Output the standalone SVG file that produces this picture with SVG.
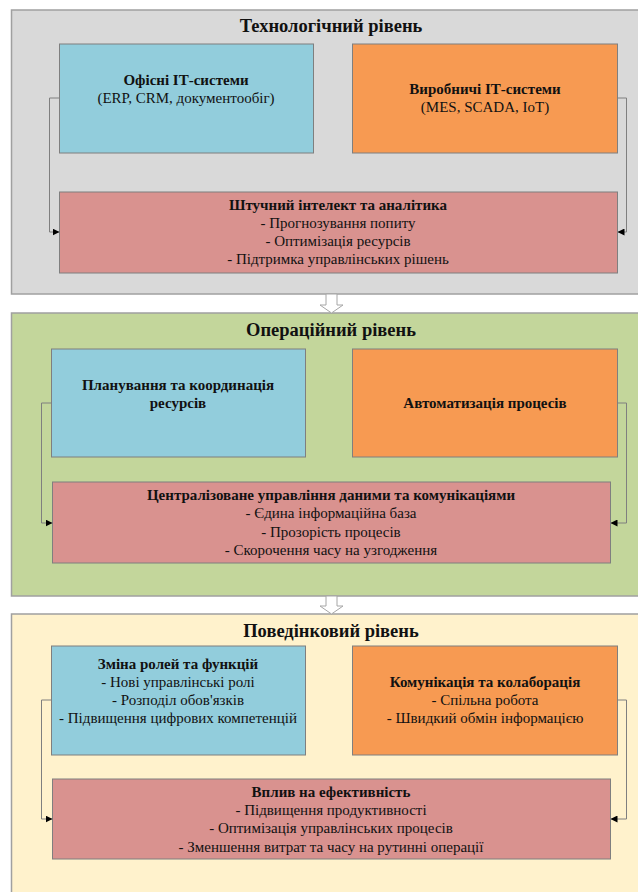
<svg xmlns="http://www.w3.org/2000/svg" width="638" height="892" viewBox="0 0 638 892">
<style>
text{font-family:"Liberation Serif","Times New Roman",serif;fill:#111;text-anchor:middle}
.pt{font-size:18.5px;font-weight:bold}
.bt{font-size:15px;font-weight:bold}
.tx{font-size:15px}
.panel{stroke:#a0a0a0;stroke-width:1.5}
.box{stroke:#7f7f7f;stroke-width:1}
.blue{fill:#92cddc}
.orange{fill:#f79a52}
.red{fill:#d9928f}
.conn{fill:none;stroke:#7f7f7f;stroke-width:1}
.big{fill:#fff;stroke:#a6a6a6;stroke-width:1}
</style>
<defs>
<marker id="ah" viewBox="0 0 10 10" refX="10" refY="5" markerWidth="7" markerHeight="7" orient="auto" markerUnits="userSpaceOnUse">
<path d="M0,0 L10,5 L0,10 z" fill="#000"/>
</marker>
</defs>
<rect width="638" height="892" fill="#fff"/>

<g id="panel-tech">
<rect class="panel" x="11.5" y="10" width="640" height="284" fill="#d9d9d9"/>
<text class="pt" x="331" y="32">Технологічний рівень</text>
</g>
<g id="panel-oper">
<rect class="panel" x="11.5" y="313" width="640" height="283" fill="#c3d69b"/>
<text class="pt" x="331" y="336">Операційний рівень</text>
</g>
<g id="panel-behav">
<rect class="panel" x="11.5" y="614" width="640" height="290" fill="#fff2cc"/>
<text class="pt" x="331" y="637">Поведінковий рівень</text>
</g>

<g id="office-it">
<rect class="box blue" x="59.5" y="44" width="254" height="109"/>
<text class="bt" x="186" y="85">Офісні ІТ-системи</text>
<text class="tx" x="186" y="103">(ERP, CRM, документообіг)</text>
</g>
<g id="prod-it">
<rect class="box orange" x="352.5" y="44" width="265" height="109"/>
<text class="bt" x="485" y="94">Виробничі ІТ-системи</text>
<text class="tx" x="485" y="112">(MES, SCADA, IoT)</text>
</g>
<g id="ai">
<rect class="box red" x="59.5" y="192" width="558" height="81"/>
<text class="bt" x="338" y="210">Штучний інтелект та аналітика</text>
<text class="tx" x="338" y="228">- Прогнозування попиту</text>
<text class="tx" x="338" y="246">- Оптимізація ресурсів</text>
<text class="tx" x="338" y="264">- Підтримка управлінських рішень</text>
</g>

<g id="planning">
<rect class="box blue" x="51.5" y="349" width="254" height="108"/>
<text class="bt" x="178" y="390">Планування та координація</text>
<text class="bt" x="178" y="408">ресурсів</text>
</g>
<g id="automation">
<rect class="box orange" x="352.5" y="349" width="265" height="108"/>
<text class="bt" x="485" y="408">Автоматизація процесів</text>
</g>
<g id="central">
<rect class="box red" x="52.5" y="482" width="558" height="81"/>
<text class="bt" x="331" y="500">Централізоване управління даними та комунікаціями</text>
<text class="tx" x="331" y="518">- Єдина інформаційна база</text>
<text class="tx" x="331" y="537">- Прозорість процесів</text>
<text class="tx" x="331" y="555">- Скорочення часу на узгодження</text>
</g>

<g id="roles">
<rect class="box blue" x="51.5" y="646" width="254" height="109"/>
<text class="bt" x="178" y="669">Зміна ролей та функцій</text>
<text class="tx" x="178" y="687">- Нові управлінські ролі</text>
<text class="tx" x="178" y="705">- Розподіл обов'язків</text>
<text class="tx" x="178" y="723">- Підвищення цифрових компетенцій</text>
</g>
<g id="communication">
<rect class="box orange" x="352.5" y="646" width="265" height="109"/>
<text class="bt" x="485" y="687">Комунікація та колаборація</text>
<text class="tx" x="485" y="705">- Спільна робота</text>
<text class="tx" x="485" y="723">- Швидкий обмін інформацією</text>
</g>
<g id="efficiency">
<rect class="box red" x="52.5" y="779" width="558" height="80"/>
<text class="bt" x="331" y="797">Вплив на ефективність</text>
<text class="tx" x="331" y="815">- Підвищення продуктивності</text>
<text class="tx" x="331" y="833">- Оптимізація управлінських процесів</text>
<text class="tx" x="331" y="852">- Зменшення витрат та часу на рутинні операції</text>
</g>

<g id="connectors">
<path class="conn" d="M59.5,98 H49.5 V232 H59.5" marker-end="url(#ah)"/>
<path class="conn" d="M617.5,98 H626.5 V232 H617.5" marker-end="url(#ah)"/>
<path class="conn" d="M51.5,403 H41.5 V523 H52.5" marker-end="url(#ah)"/>
<path class="conn" d="M617.5,403 H626.5 V523 H610.5" marker-end="url(#ah)"/>
<path class="conn" d="M51.5,700 H41.5 V819 H52.5" marker-end="url(#ah)"/>
<path class="conn" d="M617.5,700 H626.5 V819 H610.5" marker-end="url(#ah)"/>
<path class="big" d="M326,294 H337 V305 H343 L331.5,313 L320,305 H326 Z"/>
<path class="big" d="M326,596 H337 V606 H343 L331.5,614 L320,606 H326 Z"/>
</g>
</svg>
